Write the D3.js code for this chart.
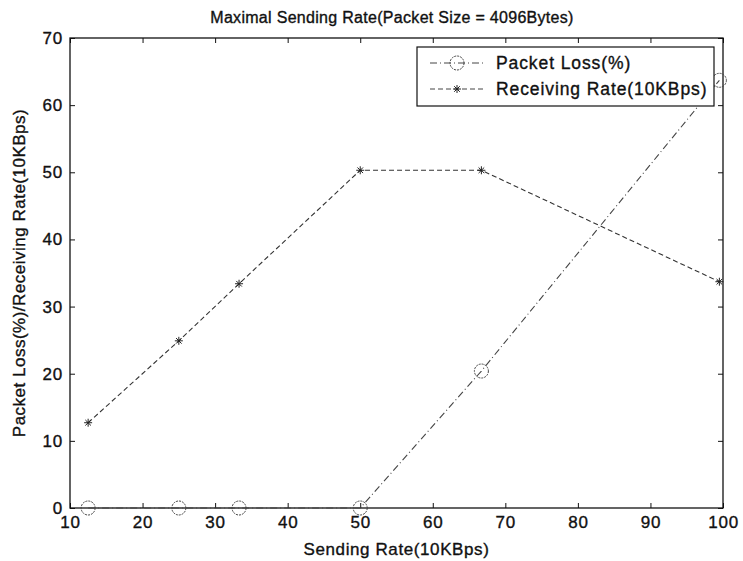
<!DOCTYPE html>
<head>
    <meta charset="utf-8">
    <title>Maximal Sending Rate</title>
    <script src="https://d3js.org/d3.v7.min.js"></script>
    <style>
        body { margin: 0; background: #fff; }
        text { font-family: "Liberation Sans", Arial, sans-serif; fill: #111; stroke: #111; stroke-width: 0.35px; }
    </style>
</head>
<body>
<div id="container"></div>
<script>
    //---------------------------DATA-------------------------------//
    const sendingRate = [12.5, 25, 33.3, 50, 66.7, 99.5];
    const packetLoss = [0, 0, 0, 0, 20.4, 63.7];
    const receivingRate = [12.7, 24.9, 33.4, 50.3, 50.3, 33.7];
    const xTicks = [10, 20, 30, 40, 50, 60, 70, 80, 90, 100];
    const yTicks = [0, 10, 20, 30, 40, 50, 60, 70];
    const seriesNames = ["Packet Loss(%)", "Receiving Rate(10KBps)"];

    //---------------------------SVG--------------------------------//
    const width = 743, height = 561;
    const margin = {left: 70, right: 20, top: 38, bottom: 53};
    const w = width - margin.left - margin.right;
    const h = height - margin.top - margin.bottom;

    const svg = d3.select("#container").append("svg")
        .attr("width", width)
        .attr("height", height);

    const g = svg.append("g")
        .attr("transform", "translate(" + margin.left + "," + margin.top + ")");

    //--------------------------SCALES------------------------------//
    const x = d3.scaleLinear().domain([10, 100]).range([0, w]);
    const y = d3.scaleLinear().domain([0, 70]).range([h, 0]);

    //---------------------------AXES-------------------------------//
    const tk = 5;
    g.append("g").attr("transform", "translate(0," + h + ")")
        .call(d3.axisBottom(x).tickValues(xTicks).tickSizeInner(-tk).tickSizeOuter(0).tickPadding(8))
        .call(a => a.select(".domain").remove())
        .selectAll("text").style("font-size", "17px").style("letter-spacing", "0.8px");
    g.append("g")
        .call(d3.axisTop(x).tickValues(xTicks).tickSizeInner(-tk).tickSizeOuter(0).tickFormat(""))
        .call(a => a.select(".domain").remove());
    g.append("g")
        .call(d3.axisLeft(y).tickValues(yTicks).tickSizeInner(-tk).tickSizeOuter(0).tickPadding(7))
        .call(a => a.select(".domain").remove())
        .selectAll("text").style("font-size", "17px").style("letter-spacing", "0.8px");
    g.append("g").attr("transform", "translate(" + w + ",0)")
        .call(d3.axisRight(y).tickValues(yTicks).tickSizeInner(-tk).tickSizeOuter(0).tickFormat(""))
        .call(a => a.select(".domain").remove());
    g.selectAll(".tick line").attr("stroke", "#111");

    g.append("rect")
        .attr("width", w).attr("height", h)
        .attr("fill", "none").attr("stroke", "#111").attr("stroke-width", 1.3);

    //--------------------------LINES-------------------------------//
    const lossData = sendingRate.map((d, i) => ({x: d, y: packetLoss[i]}));
    const recvData = sendingRate.map((d, i) => ({x: d, y: receivingRate[i]}));
    const line = d3.line().x(d => x(d.x)).y(d => y(d.y));

    g.append("path").datum(lossData)
        .attr("d", line)
        .attr("fill", "none").attr("stroke", "#444").attr("stroke-width", 1.1)
        .attr("stroke-dasharray", "7,3,1,3");
    g.append("path").datum(recvData)
        .attr("d", line)
        .attr("fill", "none").attr("stroke", "#333").attr("stroke-width", 1.1)
        .attr("stroke-dasharray", "5,3");

    //--------------------------MARKERS-----------------------------//
    function star(sel, cx, cy) {
        const s = 4;
        const p = sel.append("g").attr("transform", "translate(" + cx + "," + cy + ")")
            .attr("stroke", "#222").attr("stroke-width", 1);
        p.append("line").attr("x1", -s).attr("x2", s).attr("y1", 0).attr("y2", 0);
        p.append("line").attr("x1", 0).attr("x2", 0).attr("y1", -s).attr("y2", s);
        p.append("line").attr("x1", -s * 0.7).attr("x2", s * 0.7).attr("y1", -s * 0.7).attr("y2", s * 0.7);
        p.append("line").attr("x1", -s * 0.7).attr("x2", s * 0.7).attr("y1", s * 0.7).attr("y2", -s * 0.7);
    }

    g.selectAll(".loss").data(lossData).enter().append("circle")
        .attr("class", "loss")
        .attr("cx", d => x(d.x)).attr("cy", d => y(d.y)).attr("r", 7)
        .attr("fill", "none").attr("stroke", "#444").attr("stroke-width", 1)
        .attr("stroke-dasharray", "2,1");
    recvData.forEach(d => star(g, x(d.x), y(d.y)));

    //--------------------------LEGEND------------------------------//
    const lg = svg.append("g").attr("transform", "translate(417,47)");
    lg.append("rect").attr("width", 297).attr("height", 59)
        .attr("fill", "#fff").attr("stroke", "#111").attr("stroke-width", 1.2);
    [0, 1].forEach(i => {
        const ly = 16 + i * 26;
        lg.append("line").attr("x1", 13).attr("x2", 67).attr("y1", ly).attr("y2", ly)
            .attr("stroke", "#444").attr("stroke-width", 1)
            .attr("stroke-dasharray", i === 0 ? "7,3,1,3" : "5,3");
        if (i === 0) {
            lg.append("circle").attr("cx", 40).attr("cy", ly).attr("r", 7)
                .attr("fill", "none").attr("stroke", "#444").attr("stroke-dasharray", "2,1");
        } else {
            star(lg, 40, ly);
        }
        lg.append("text").attr("x", 79).attr("y", ly + 6)
            .style("font-size", "17.5px").style("letter-spacing", "0.9px").text(seriesNames[i]);
    });

    //--------------------------LABELS------------------------------//
    svg.append("text").attr("x", 392).attr("y", 23)
        .attr("text-anchor", "middle").style("font-size", "16px").style("letter-spacing", "0.3px")
        .text("Maximal Sending Rate(Packet Size = 4096Bytes)");
    svg.append("text").attr("x", margin.left + w / 2).attr("y", 555)
        .attr("text-anchor", "middle").style("font-size", "17px").style("letter-spacing", "0.6px")
        .text("Sending Rate(10KBps)");
    svg.append("text")
        .attr("transform", "translate(25," + (margin.top + h / 2) + ") rotate(-90)")
        .attr("text-anchor", "middle").style("font-size", "17px").style("letter-spacing", "0.5px")
        .text("Packet Loss(%)/Receiving Rate(10KBps)");
</script>
</body>
